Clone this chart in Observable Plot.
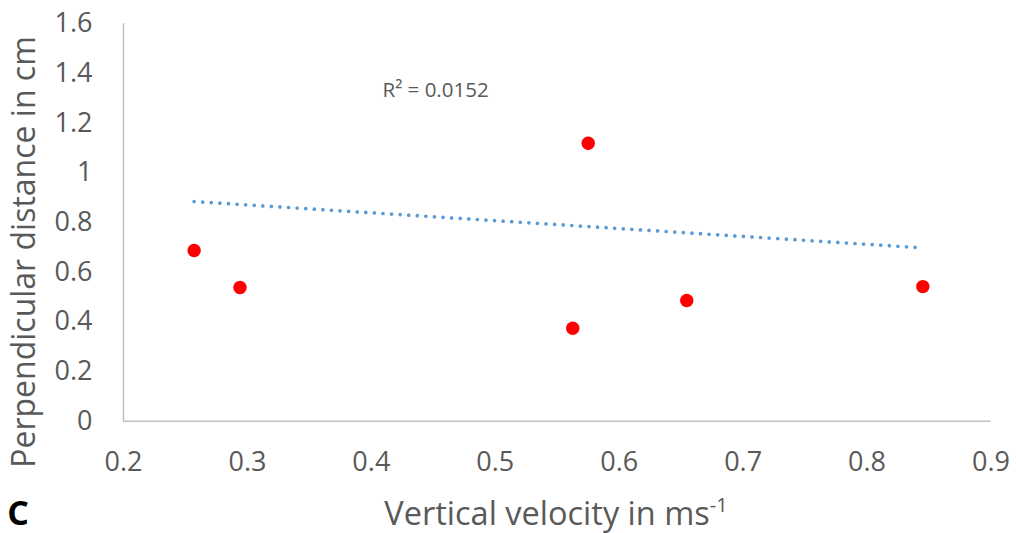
<!DOCTYPE html>
<html>
<head>
<meta charset="utf-8">
<script src="https://cdn.jsdelivr.net/npm/d3@7"></script>
<script src="https://cdn.jsdelivr.net/npm/@observablehq/plot@0.6"></script>
<style>
  html, body { margin: 0; padding: 0; background: #fff; }
  #chart svg { display: block; }
</style>
</head>
<body>
<div id="chart"></div>
<script>
// Data
const velocity = [0.257, 0.294, 0.5625, 0.575, 0.6545, 0.845];   // vertical velocity (m/s)
const distance = [0.687, 0.538, 0.374, 1.119, 0.486, 0.542];     // perpendicular distance (cm)
const trendVelocity = [0.257, 0.845];
const trendDistance = [0.8845, 0.698];
const xTicks = [0.2, 0.3, 0.4, 0.5, 0.6, 0.7, 0.8, 0.9];
const yTicks = [0, 0.2, 0.4, 0.6, 0.8, 1, 1.2, 1.4, 1.6];
const rSquaredLabel = "R\u00b2 = 0.0152";
const yTitle = "Perpendicular distance in cm";
const xTitleMain = "Vertical velocity in ms";
const xTitleSup = "-1";
const panelLabel = "C";

const points = velocity.map((v, i) => ({v, d: distance[i]}));
const trend = trendVelocity.map((v, i) => ({v, d: trendDistance[i]}));

const W = 1016, H = 533;
const font = "'Open Sans', 'Liberation Sans', sans-serif";
const grey = "#595959";

const chart = Plot.plot({
  width: W,
  height: H,
  marginLeft: 123,
  marginRight: 25.5,
  marginTop: 23.3,
  marginBottom: 112.3,
  style: {fontFamily: font, fontSize: "27px", color: grey, background: "#fff", overflow: "visible"},
  x: {domain: [0.2, 0.9], ticks: xTicks, tickFormat: d => String(d), tickSize: 0, tickPadding: 31, label: null},
  y: {domain: [0, 1.6], ticks: yTicks, tickFormat: d => String(d), tickSize: 0, tickPadding: 31, label: null},
  marks: [
    Plot.ruleX([0.2], {stroke: "#BFBFBF", strokeWidth: 1.5}),
    Plot.ruleY([0], {stroke: "#BFBFBF", strokeWidth: 1.5}),
    Plot.line(trend, {x: "v", y: "d", stroke: "#5B9BD5", strokeWidth: 3.7, strokeDasharray: "0,8.6", strokeLinecap: "round"}),
    Plot.dot(points, {x: "v", y: "d", r: 6.7, fill: "#FF0000", stroke: "none"}),
    Plot.text([rSquaredLabel], {frameAnchor: "top-left", dx: 259, dy: 66.7, textAnchor: "start", lineAnchor: "middle", fontSize: 20.5, fill: grey, fontFamily: font})
  ]
});

const svg = d3.select(chart);

// y-axis title (rotated)
svg.append("text")
  .attr("transform", "translate(35,252) rotate(-90)")
  .attr("text-anchor", "middle")
  .attr("font-family", font)
  .attr("font-size", 32)
  .attr("fill", grey)
  .text(yTitle);

// x-axis title with superscript
const xt = svg.append("text")
  .attr("x", 556)
  .attr("y", 525)
  .attr("text-anchor", "middle")
  .attr("font-family", font)
  .attr("font-size", 32.5)
  .attr("fill", grey);
xt.append("tspan").text(xTitleMain);
xt.append("tspan").attr("font-size", 20).attr("dy", -13).text(xTitleSup);

// panel label
svg.append("text")
  .attr("x", 18)
  .attr("y", 525)
  .attr("font-family", font)
  .attr("font-size", 34)
  .attr("font-weight", "bold")
  .attr("fill", "#000")
  .text(panelLabel);

document.getElementById("chart").append(chart);
</script>
</body>
</html>
